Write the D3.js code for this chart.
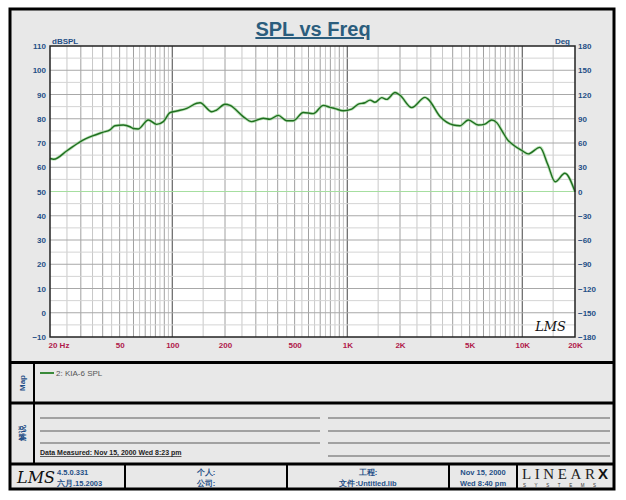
<!DOCTYPE html>
<html>
<head>
<meta charset="utf-8">
<script src="https://cdn.jsdelivr.net/npm/d3@7"></script>
<style>
  body { margin: 0; background: #fff; }
  text { font-family: "Liberation Sans", Arial, sans-serif; }
</style>
</head>
<body>
<svg id="chart" width="626" height="500"></svg>
<script>
// measured curve: frequency (Hz) and level (dB SPL)
var freqs = [20, 21, 25, 29.7, 35, 40, 44, 47, 52.5, 57.3, 59.8, 63.9, 72.9, 81.4, 88.8, 97, 106, 121, 138, 144,
    168, 179, 200, 214, 254, 284, 331, 361, 403, 450, 491, 560, 639, 729, 796, 850, 948, 1059, 1156, 1262,
    1348, 1439, 1572, 1679, 1873, 2000, 2334, 2780, 2902, 3386, 4034, 4400, 4915, 5600, 6120, 6685, 7140,
    7700, 8200, 8880, 10000, 10800, 12600, 14000, 15400, 17500, 20000];
var spl = [63.6, 63.3, 66.8, 70.5, 72.9, 74.4, 75.4, 77.1, 77.4, 76.7, 76.0, 75.8, 79.5, 77.7, 78.8, 82.5, 83.2, 84.3, 86.4, 86.6,
    82.9, 83.6, 86.0, 85.5, 80.9, 78.8, 80.2, 79.8, 81.4, 79.2, 79.2, 82.6, 82.1, 85.5, 84.7, 84.2, 83.3, 84.0, 86.0, 86.6,
    87.7, 86.8, 88.7, 88.0, 90.8, 89.7, 84.6, 88.8, 88.0, 80.9, 77.4, 77.1, 79.5, 77.4, 77.8, 79.5, 78.4,
    74.7, 71.5, 69.2, 66.8, 65.5, 68.2, 61.0, 54.0, 57.5, 49.9];

var splTicks = [110, 100, 90, 80, 70, 60, 50, 40, 30, 20, 10, 0, -10];
var degTicks = [180, 150, 120, 90, 60, 30, 0, -30, -60, -90, -120, -150, -180];
var freqTicks = [20, 50, 100, 200, 500, 1000, 2000, 5000, 10000, 20000];
var freqLabels = ["20  Hz", "50", "100", "200", "500", "1K", "2K", "5K", "10K", "20K"];

var seriesName = "2: KIA-6 SPL";

var svg = d3.select("#chart");
var bg = "#e8e8e8", blue = "#1f4f86", red = "#b0184a";

// outer frame and panels
svg.append("rect").attr("x", 10).attr("y", 9).attr("width", 604).attr("height", 480)
    .attr("fill", bg).attr("stroke", "#000").attr("stroke-width", 3);
[362.5, 403, 464].forEach(function(yy) {
    svg.append("line").attr("x1", 10).attr("x2", 614).attr("y1", yy).attr("y2", yy)
        .attr("stroke", "#000").attr("stroke-width", 3);
});
svg.append("line").attr("x1", 34).attr("x2", 34).attr("y1", 362).attr("y2", 464)
    .attr("stroke", "#000").attr("stroke-width", 2);
[125, 287, 449, 517].forEach(function(xx) {
    svg.append("line").attr("x1", xx).attr("x2", xx).attr("y1", 464).attr("y2", 489)
        .attr("stroke", "#000").attr("stroke-width", 2);
});

// title
svg.append("text").attr("x", 313).attr("y", 36).attr("text-anchor", "middle")
    .style("font-size", "20px").style("font-weight", "bold").attr("fill", "#2b5d7d")
    .attr("text-decoration", "underline").text("SPL vs Freq");

var plotL = 50, plotR = 575, plotT = 46, plotB = 337;

var x = d3.scaleLog().domain([20, 20000]).range([plotL, plotR]);
var y = d3.scaleLinear().domain([-10, 110]).range([plotB, plotT]);
var y2 = d3.scaleLinear().domain([-180, 180]).range([plotB, plotT]);

svg.append("rect").attr("x", plotL).attr("y", plotT).attr("width", plotR - plotL).attr("height", plotB - plotT)
    .attr("fill", "#fff");

// vertical grid, every half step of each decade
var grid = svg.append("g");
[10, 100, 1000, 10000].forEach(function(dec) {
    for (var m = 1; m <= 10; m += 0.5) {
        var f = m * dec;
        if (f <= 20 || f >= 20000) continue;
        var col = (m === 1 || m === 10) ? "#707070" : (m % 1 === 0 ? "#a0a0a0" : "#c8c8c8");
        grid.append("line").attr("x1", x(f)).attr("x2", x(f)).attr("y1", plotT).attr("y2", plotB)
            .attr("stroke", col).attr("stroke-width", 1);
    }
});
// horizontal grid
for (var v = -5; v < 110; v += 5) {
    grid.append("line").attr("x1", plotL).attr("x2", plotR).attr("y1", y(v)).attr("y2", y(v))
        .attr("stroke", v % 10 === 0 ? "#a8a8a8" : "#d4d4d4").attr("stroke-width", 1);
}
// zero degree line
grid.append("line").attr("x1", plotL).attr("x2", plotR).attr("y1", y2(0)).attr("y2", y2(0))
    .attr("stroke", "#a6dea0").attr("stroke-width", 1.2);

// curve
var line = d3.line()
    .x(function(d, i) { return x(freqs[i]); })
    .y(function(d) { return y(d); })
    .curve(d3.curveMonotoneX);
svg.append("path").datum(spl).attr("d", line).attr("fill", "none")
    .attr("stroke", "#8fd08a").attr("stroke-width", 3).attr("opacity", 0.6);
svg.append("path").datum(spl).attr("d", line).attr("fill", "none")
    .attr("stroke", "#1f6e1f").attr("stroke-width", 1.4);

svg.append("rect").attr("x", plotL).attr("y", plotT).attr("width", plotR - plotL).attr("height", plotB - plotT)
    .attr("fill", "none").attr("stroke", "#222").attr("stroke-width", 1.5);

// watermark
svg.append("text").attr("x", 566).attr("y", 331).attr("text-anchor", "end")
    .style("font-family", "'DejaVu Serif', serif").style("font-style", "italic").style("font-size", "13px")
    .attr("fill", "#111").text("LMS");

// axes
var yAxis = d3.axisLeft(y).tickValues(splTicks).tickSize(0).tickPadding(4);
var gy = svg.append("g").attr("transform", "translate(" + plotL + ",0)").call(yAxis);
var y2Axis = d3.axisRight(y2).tickValues(degTicks).tickSize(0).tickPadding(3);
var gy2 = svg.append("g").attr("transform", "translate(" + plotR + ",0)").call(y2Axis);
var xAxis = d3.axisBottom(x).tickValues(freqTicks).tickSize(0).tickPadding(5)
    .tickFormat(function(d, i) { return freqLabels[i]; });
var gx = svg.append("g").attr("transform", "translate(0," + plotB + ")").call(xAxis);

[gy, gy2, gx].forEach(function(g) {
    g.select(".domain").remove();
    g.selectAll("text").style("font-family", "'Liberation Sans', Arial, sans-serif")
        .style("font-size", "8px").style("font-weight", "bold");
});
gy.selectAll("text").attr("fill", blue);
gy2.selectAll("text").attr("fill", blue);
gx.selectAll("text").attr("fill", red);
gx.selectAll("text").filter(function(d) { return d === 20; }).attr("text-anchor", "start").attr("x", -2);

svg.append("text").attr("x", 52).attr("y", 44).style("font-size", "8px").style("font-weight", "bold")
    .attr("fill", blue).text("dBSPL");
svg.append("text").attr("x", 570).attr("y", 44).attr("text-anchor", "end").style("font-size", "8px")
    .style("font-weight", "bold").attr("fill", blue).text("Deg");

// side labels
svg.append("text").attr("transform", "translate(25,383) rotate(-90)").attr("text-anchor", "middle")
    .style("font-size", "8px").style("font-weight", "bold").attr("fill", blue).text("Map");
svg.append("text").attr("transform", "translate(25,433) rotate(-90)").attr("text-anchor", "middle")
    .style("font-size", "8px").style("font-weight", "bold").attr("fill", blue).text("解说");

// legend
svg.append("line").attr("x1", 40).attr("x2", 54).attr("y1", 373).attr("y2", 373)
    .attr("stroke", "#3a8a3a").attr("stroke-width", 2);
svg.append("text").attr("x", 56).attr("y", 376).style("font-size", "8px").attr("fill", "#555")
    .text(seriesName);

// note lines
[418, 431, 443].forEach(function(ly) {
    svg.append("line").attr("x1", 40).attr("x2", 320).attr("y1", ly).attr("y2", ly)
        .attr("stroke", "#8a8a8a").attr("stroke-width", 1.5);
});
[418, 431, 443, 456].forEach(function(ly) {
    svg.append("line").attr("x1", 328).attr("x2", 610).attr("y1", ly).attr("y2", ly)
        .attr("stroke", "#8a8a8a").attr("stroke-width", 1.5);
});
svg.append("text").attr("x", 40).attr("y", 455).style("font-size", "7px").style("font-weight", "bold")
    .attr("fill", "#222").attr("text-decoration", "underline")
    .text("Data Measured: Nov 15, 2000  Wed  8:23 pm");

// footer
svg.append("text").attr("x", 17).attr("y", 483)
    .style("font-family", "'DejaVu Serif', serif").style("font-style", "italic").style("font-size", "16px")
    .attr("fill", "#111").text("LMS");
svg.append("text").attr("x", 57).attr("y", 475).style("font-size", "7.5px").style("font-weight", "bold")
    .attr("fill", blue).text("4.5.0.331");
svg.append("text").attr("x", 57).attr("y", 486).style("font-size", "7.5px").style("font-weight", "bold")
    .attr("fill", blue).text("六月.15.2003");

function centerPair(cx, a, b) {
    svg.append("text").attr("x", cx).attr("y", 475).attr("text-anchor", "middle").style("font-size", "7.5px")
        .style("font-weight", "bold").attr("fill", blue).text(a);
    svg.append("text").attr("x", cx).attr("y", 486).attr("text-anchor", "middle").style("font-size", "7.5px")
        .style("font-weight", "bold").attr("fill", blue).text(b);
}
centerPair(206, "个人:", "公司:");
centerPair(368, "工程:", "文件:Untitled.lib");
centerPair(483, "Nov 15, 2000", "Wed  8:40 pm");

svg.append("text").attr("x", 522).attr("y", 479)
    .style("font-family", "'Liberation Serif', serif").style("font-size", "15px").attr("fill", "#222")
    .attr("letter-spacing", "3.6px").text("LINEAR");
svg.append("text").attr("x", 598).attr("y", 479)
    .style("font-family", "'Liberation Sans', sans-serif").style("font-size", "15px").style("font-weight", "bold")
    .attr("fill", "#111").text("X");
svg.append("text").attr("x", 523).attr("y", 487)
    .style("font-size", "4.5px").attr("fill", "#333").attr("letter-spacing", "8.6px").text("SYSTEMS");
</script>
</body>
</html>
